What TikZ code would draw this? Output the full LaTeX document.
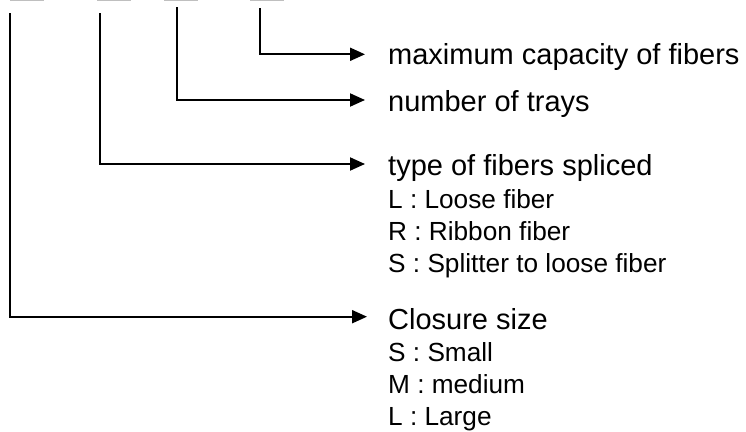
\documentclass[tikz,border=0pt]{standalone}
\usepackage{fontspec}
\setmainfont{Liberation Sans}
\usetikzlibrary{arrows.meta}
\begin{document}
\begin{tikzpicture}[x=1pt,y=-1pt,
  conn/.style={line width=2pt,-{Triangle[length=15pt,width=13pt]}},
  bar/.style={line width=1.2pt,draw=black!25},
  mainlbl/.style={anchor=base west,inner sep=0pt,font=\fontsize{29}{33}\selectfont},
  sublbl/.style={anchor=base west,inner sep=0pt,font=\fontsize{26.2}{32}\selectfont}]
\useasboundingbox (0,0) rectangle (746,431);
% gray bars at top
\draw[bar] (10,0.6) -- (44,0.6);
\draw[bar] (97,0.6) -- (131,0.6);
\draw[bar] (164,0.6) -- (198,0.6);
\draw[bar] (250,0.6) -- (284,0.6);
% start points of connectors
\coordinate (s1) at (9.5,13);
\coordinate (s2) at (100,13);
\coordinate (s3) at (176.5,7);
\coordinate (s4) at (260,8);
% arrow tips
\coordinate (e4) at (365,54.3);
\coordinate (e3) at (365,100);
\coordinate (e2) at (365,164);
\coordinate (e1) at (367,316.7);
% labels
\node[mainlbl] (t4) at (388,64) {maximum capacity of fibers};
\node[mainlbl] (t3) at (388,111) {number of trays};
\node[mainlbl] (t2) at (388,175) {type of fibers spliced};
\node[sublbl] (t2a) at (388,208) {L : Loose fiber};
\node[sublbl] (t2b) at (388,240) {R : Ribbon fiber};
\node[sublbl] (t2c) at (388,272) {S : Splitter to loose fiber};
\node[mainlbl] (t1) at (388,329.5) {Closure size};
\node[sublbl] (t1a) at (388,361.5) {S : Small};
\node[sublbl] (t1b) at (388,393.5) {M : medium};
\node[sublbl] (t1c) at (388,425) {L : Large};
% connectors
\draw[conn] (s4) |- (e4);
\draw[conn] (s3) |- (e3);
\draw[conn] (s2) |- (e2);
\draw[conn] (s1) |- (e1);
\end{tikzpicture}
\end{document}
